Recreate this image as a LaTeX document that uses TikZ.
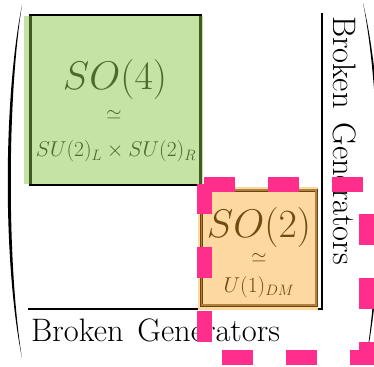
\RequirePackage{fix-cm}
\documentclass[tikz,border=0pt]{standalone}
\definecolor{leafgreen}{HTML}{C5E3A5}
\definecolor{darkleaf}{HTML}{3E5C22}
\definecolor{leaftext}{HTML}{4C6A2E}
\definecolor{peach}{HTML}{FDD8A0}
\definecolor{darkbrown}{HTML}{6A4510}
\definecolor{midbrown}{HTML}{B0813E}
\definecolor{browntext}{HTML}{6E4C12}
\definecolor{hotpink}{HTML}{FF2E8C}
\tikzset{
  frameline/.style={line width=2.2pt, black},
  bigsym/.style={inner sep=0pt, text depth=0pt, font=\fontsize{40}{44}\selectfont},
  midsym/.style={inner sep=0pt, font=\fontsize{21.5}{24}\selectfont},
  simsym/.style={inner sep=0pt, text height=1ex, text depth=0pt, font=\fontsize{19.5}{22}\selectfont},
  genlabel/.style={inner sep=0pt, font=\fontsize{32.5}{35}\selectfont},
  pinkdash/.style={hotpink, line width=15pt, dash pattern=on 31pt off 33pt},
}
\newcommand{\genwords}{Broken\hspace{4pt} Generators}
\begin{document}
\begin{tikzpicture}[x=1pt, y=-1pt]
\useasboundingbox (0,0) rectangle (374,366);

% matrix parentheses
\fill (22,5) .. controls (3,100) and (3,265) .. (22,358)
      .. controls (7,265) and (7,100) .. (22,5) -- cycle;
\fill (363,3) .. controls (386,100) and (386,260) .. (366,360)
      .. controls (382,260) and (382,100) .. (363,3) -- cycle;

% block frame lines
\coordinate (vtop) at (322,13);
\coordinate (corner) at (322,309);
\coordinate (hleft) at (28,309);
\draw[frameline] (vtop) -- (corner) -- (hleft);

% SO(4) block
\fill[leafgreen] (24,16) rectangle (203,183.5);
\draw[darkleaf, line width=2.2pt] (30.5,16) -- (30.5,184);
\draw[darkleaf, line width=2.2pt] (200.5,16) -- (200.5,184);
\draw[frameline] (29,15) -- (201.5,15);
\draw[frameline] (29,185) -- (201.5,185);
\node[bigsym, text=leaftext, anchor=base] (so4) at (115,90) {$SO(4)$};
\node[simsym, text=leaftext] (sim1) at (114,117) {$\simeq$};
\node[midsym, text=leaftext, anchor=base] (su2) at (116,157) {$SU(2)_L\times SU(2)_R$};

% SO(2) block
\fill[peach] (198,187) rectangle (318,310);
\draw[darkbrown, line width=0.9pt, double=midbrown, double distance=1.2pt]
     (201.5,190) rectangle (316,305);
\node[bigsym, text=browntext, anchor=base] (so2) at (259,237) {$SO(2)$};
\node[simsym, text=browntext] (sim2) at (259,260) {$\simeq$};
\node[midsym, text=browntext, anchor=base] (u1) at (259,292) {$U(1)_{DM}$};

% axis labels
\node[genlabel, anchor=base west] (bottomlabel) at (31,341) {\genwords};
\node[genlabel, anchor=base west, rotate=-90] (sidelabel) at (333,16) {\genwords};

% highlighted sector
\coordinate (hl1) at (204,184);
\coordinate (hl2) at (366,184);
\coordinate (hl3) at (366,357);
\coordinate (hl4) at (204,357);
\draw[pinkdash, black, opacity=0.12, xshift=1pt, yshift=-2pt]
     (hl1) -- (hl2) -- (hl3) -- (hl4) -- cycle;
\draw[pinkdash] (hl1) -- (hl2) -- (hl3) -- (hl4) -- cycle;
\end{tikzpicture}
\end{document}
